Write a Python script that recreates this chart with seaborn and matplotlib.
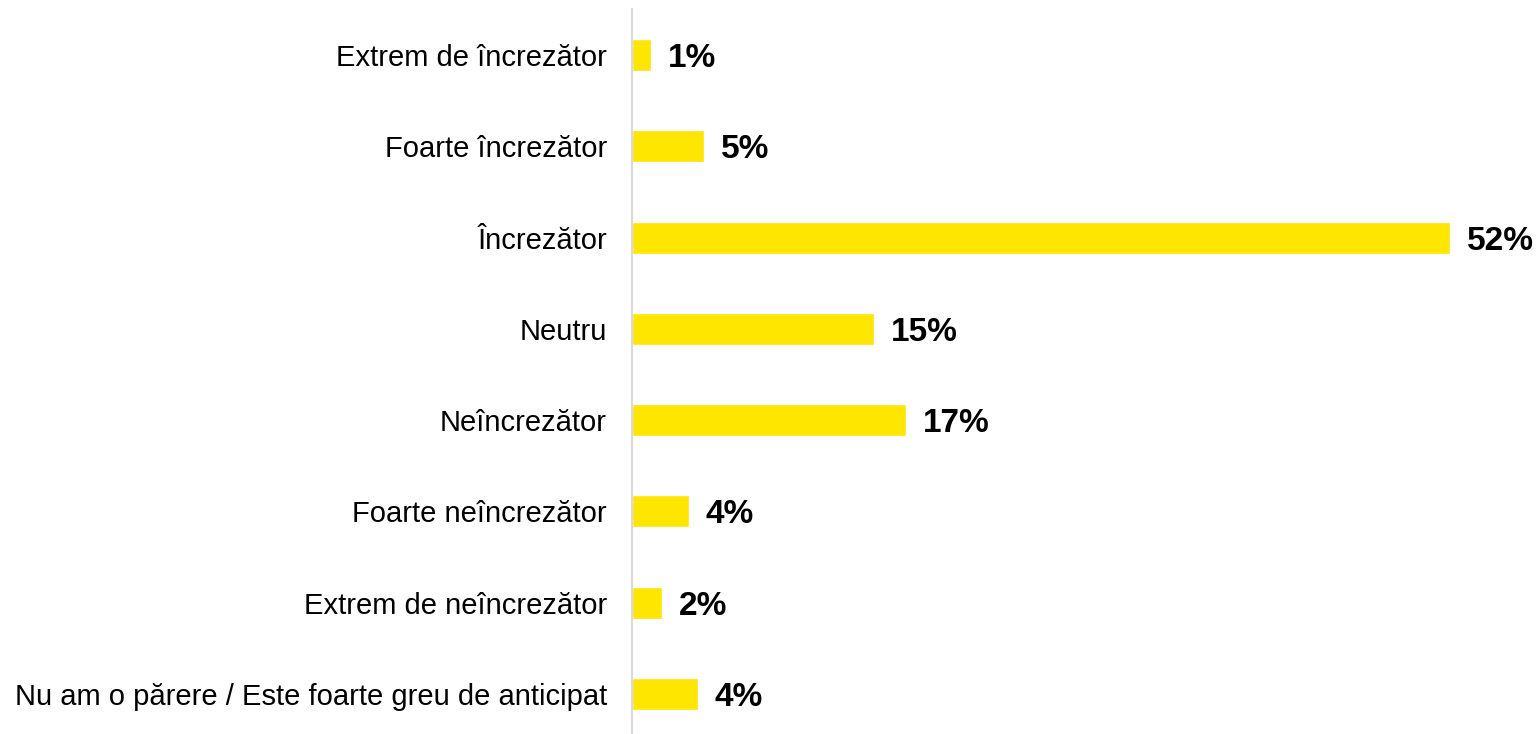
import matplotlib
matplotlib.use("Agg")
import matplotlib.pyplot as plt
import seaborn as sns
import pandas as pd

# Data
categories = [
    "Extrem de încrezător",
    "Foarte încrezător",
    "Încrezător",
    "Neutru",
    "Neîncrezător",
    "Foarte neîncrezător",
    "Extrem de neîncrezător",
    "Nu am o părere / Este foarte greu de anticipat",
]
values = [1.2, 4.6, 52.0, 15.4, 17.4, 3.6, 1.9, 4.2]
value_labels = ["1%", "5%", "52%", "15%", "17%", "4%", "2%", "4%"]

BAR_COLOR = "#FFE600"
AXIS_COLOR = "#D9D9D9"

sns.set_style("white")
plt.rcParams["font.family"] = ["Liberation Sans", "DejaVu Sans"]

df = pd.DataFrame({"category": categories, "value": values})

fig = plt.figure(figsize=(15.37, 7.34), dpi=100)
ax = fig.add_axes([0.4112, -0.0076, 0.5888, 0.9948])

sns.barplot(data=df, y="category", x="value", orient="h",
            color=BAR_COLOR, saturation=1, width=0.35, ax=ax)

# Value labels at the bar ends
texts = ax.bar_label(ax.containers[0], labels=value_labels, padding=12,
                     fontsize=24, fontweight="bold", color="black")
for t in texts:
    t.set_va("center_baseline")

ax.set_xlim(0, 57.5)
ax.set_ylim(7.5, -0.5)
ax.set_xlabel("")
ax.set_ylabel("")
ax.set_xticks([])
ax.tick_params(axis="y", length=0, pad=18, labelsize=21, labelcolor="black")

for side in ["top", "right", "bottom"]:
    ax.spines[side].set_visible(False)
ax.spines["left"].set_color(AXIS_COLOR)
ax.spines["left"].set_linewidth(1.5)

fig.savefig("out.png", dpi=100)
plt.close(fig)
